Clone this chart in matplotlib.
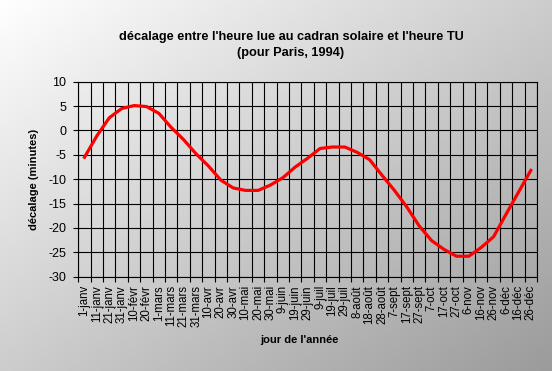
import numpy as np
import matplotlib
matplotlib.use("Agg")
import matplotlib.pyplot as plt

plt.rcParams['font.family'] = ['Liberation Sans', 'DejaVu Sans']

labels = ["1-janv", "11-janv", "21-janv", "31-janv", "10-févr", "20-févr",
          "1-mars", "11-mars", "21-mars", "31-mars", "10-avr", "20-avr",
          "30-avr", "10-mai", "20-mai", "30-mai", "9-juin", "19-juin",
          "29-juin", "9-juil", "19-juil", "29-juil", "8-août", "18-août",
          "28-août", "7-sept", "17-sept", "27-sept", "7-oct", "17-oct",
          "27-oct", "6-nov", "16-nov", "26-nov", "6-déc", "16-déc", "26-déc"]

decalage = [-5.5, -1.1, 2.6, 4.5, 5.1, 4.9, 3.5, 0.6, -1.9, -4.8, -7.3,
            -10.2, -11.8, -12.3, -12.3, -11.2, -9.7, -7.5, -5.7, -3.7, -3.4,
            -3.4, -4.5, -6.0, -9.2, -12.3, -15.7, -19.6, -22.6, -24.4, -25.8,
            -25.8, -24.0, -21.8, -17.2, -12.7, -8.2]

yticks = [-30, -25, -20, -15, -10, -5, 0, 5, 10]

W, H = 552, 371
fig = plt.figure(figsize=(W / 100, H / 100), dpi=100)

# background gradient
bg = fig.add_axes([0, 0, 1, 1], zorder=-10)
xx, yy = np.meshgrid(np.linspace(0, 1, 300), np.linspace(0, 1, 200))
u = (xx + yy) / 2
g = (255 - 100 * u) / 255.0
img = np.dstack([g, g, g])
bg.imshow(img, aspect='auto', extent=[0, 1, 1, 0])
bg.set_xlim(0, 1)
bg.set_ylim(1, 0)
bg.axis('off')

ax = fig.add_axes([78.3 / W, (H - 276.7) / H, 458.7 / W, 195 / H])
ax.patch.set_alpha(0)

x = np.arange(len(decalage))
ax.plot(x, decalage, color='#ff0000', lw=2.3, zorder=5, solid_joinstyle='round')

ax.set_xlim(-0.5, len(labels) - 0.5)
ax.set_ylim(-30, 10)
ax.set_yticks(yticks)
ax.set_yticklabels([str(v) for v in yticks], fontsize=9)
ax.set_xticks(x)
ax.set_xticklabels(labels, rotation=90, fontsize=8.3)
ax.set_xticks(np.arange(len(labels) + 1) - 0.5, minor=True)
ax.tick_params(axis='x', which='major', length=0, pad=6)
ax.tick_params(axis='x', which='minor', length=3.5, width=0.8, direction='out')
ax.tick_params(axis='y', which='major', length=3.5, width=0.8, direction='out', pad=5)

ax.grid(True, axis='y', which='major', color='black', lw=0.8)
ax.grid(True, axis='x', which='minor', color='black', lw=0.8)
ax.set_axisbelow(True)
for s in ax.spines.values():
    s.set_color('black')
    s.set_linewidth(0.8)

ax.set_ylabel("décalage (minutes)", fontsize=8, fontweight='bold', labelpad=7)
fig.text(299 / W, 1 - 340 / H, "jour de l'année", ha='center', va='center',
         fontsize=8, fontweight='bold')
fig.text(291 / W, 1 - 37 / H, "décalage entre l'heure lue au cadran solaire et l'heure TU",
         ha='center', va='center', fontsize=9.2, fontweight='bold')
fig.text(291 / W, 1 - 53 / H, "(pour Paris, 1994)",
         ha='center', va='center', fontsize=9.2, fontweight='bold')

fig.savefig("out.png", dpi=100)
